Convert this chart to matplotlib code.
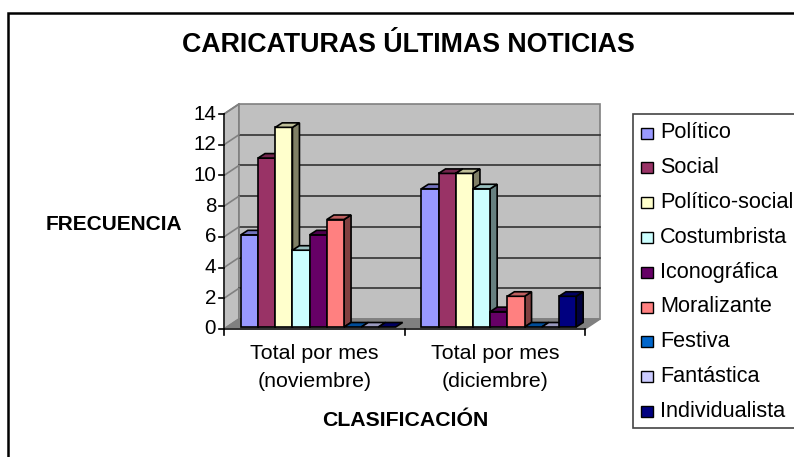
import matplotlib
matplotlib.use('Agg')
import matplotlib.pyplot as plt
from matplotlib.colors import to_rgb
from matplotlib.patches import Polygon, Rectangle

plt.rcParams['font.family'] = ['Liberation Sans', 'DejaVu Sans']

# Data
categories = ['Total por mes\n(noviembre)', 'Total por mes\n(diciembre)']
series = ['Político', 'Social', 'Político-social', 'Costumbrista', 'Iconográfica',
          'Moralizante', 'Festiva', 'Fantástica', 'Individualista']
noviembre = [6, 11, 13, 5, 6, 7, 0, 0, 0]
diciembre = [9, 10, 10, 9, 1, 2, 0, 0, 2]
colors = ['#9999FF', '#993366', '#FFFFCC', '#CCFFFF', '#660066',
          '#FF8080', '#0066CC', '#CCCCFF', '#000080']
yticks = [0, 2, 4, 6, 8, 10, 12, 14]

W, H = 794, 457
fig = plt.figure(figsize=(W / 100, H / 100), dpi=100)

# Plot box in pixels
left, right, top, bottom = 224, 585, 114, 329
ax = fig.add_axes([left / W, 1 - bottom / H, (right - left) / W, (bottom - top) / H])
ax.set_xlim(0, 2)
ax.set_ylim(0, 14)
ax.axis('off')

# 3D offsets in data units
px_x = 2 / (right - left)
px_y = 14 / (bottom - top)
wall_dx, wall_dy = 15 * px_x, 10 * px_y
bar_dx, bar_dy = 7 * px_x, 4.5 * px_y
bar_base = 2 * px_y
bar_shift = 4 * px_x
bar_w = 17.2 * px_x


def shade(c, f):
    return tuple(v * f for v in to_rgb(c))


def poly(pts, fc, ec='#808080', lw=1.2, z=1):
    ax.add_patch(Polygon(pts, closed=True, facecolor=fc, edgecolor=ec, linewidth=lw,
                         zorder=z, clip_on=False, joinstyle='miter'))


# Walls and floor
poly([(0, 0), (wall_dx, wall_dy), (wall_dx, 14 + wall_dy), (0, 14)], '#C0C0C0', z=1)
poly([(wall_dx, wall_dy), (2 + wall_dx, wall_dy), (2 + wall_dx, 14 + wall_dy),
      (wall_dx, 14 + wall_dy)], '#C0C0C0', z=1)
poly([(0, 0), (wall_dx, wall_dy), (2 + wall_dx, wall_dy), (2, 0)], '#808080', z=1)

for t in yticks[1:-1]:
    ax.plot([wall_dx, 2 + wall_dx], [t + wall_dy, t + wall_dy], color='#333333', lw=1.2,
            zorder=2, clip_on=False)
for t in yticks[1:]:
    ax.plot([0, wall_dx], [t, t + wall_dy], color='#808080', lw=1.2, zorder=2, clip_on=False)

# Axis lines and ticks
ax.plot([0, 0], [0, 14], color='#222222', lw=1.2, zorder=3, clip_on=False)
ax.plot([0, 2], [0, 0], color='#222222', lw=1.2, zorder=3, clip_on=False)
for t in yticks:
    ax.plot([-5 * px_x, 0], [t, t], color='black', lw=1.2, zorder=3, clip_on=False)
    ax.text(-8 * px_x, t, str(t), ha='right', va='center', fontsize=14.8, color='black')
for i in range(3):
    ax.plot([i, i], [0, -6 * px_y], color='black', lw=1.2, zorder=3, clip_on=False)
for i, c in enumerate(categories):
    ax.text(i + 0.5, -38.5 * px_y, c, ha='center', va='center', fontsize=15.4,
            linespacing=1.62, color='black')

# Bars
z = 5
for g, vals in enumerate([noviembre, diciembre]):
    x0 = g + 0.5 - bar_w * len(vals) / 2 + bar_shift
    for i, v in enumerate(vals):
        x = x0 + i * bar_w
        b = bar_base
        t = b + v
        c = colors[i]
        if v > 0:
            poly([(x + bar_w, b), (x + bar_w + bar_dx, b + bar_dy),
                  (x + bar_w + bar_dx, t + bar_dy), (x + bar_w, t)],
                 shade(c, 0.5), ec='black', z=z)
            ax.bar(x, v, bar_w, bottom=b, align='edge', color=c, edgecolor='black',
                   linewidth=1.2, zorder=z, clip_on=False)
        poly([(x, t), (x + bar_dx, t + bar_dy), (x + bar_w + bar_dx, t + bar_dy),
              (x + bar_w, t)], shade(c, 0.75), ec='black', z=z)
        z += 1

# Text in pixels
def fig_text(px, py, s, **kw):
    fig.text(px / W, 1 - py / H, s, va='center', color='black', **kw)


fig_text(408, 45, 'CARICATURAS ÚLTIMAS NOTICIAS', ha='center', fontsize=19.25, fontweight='bold')
fig_text(113.5, 224.5, 'FRECUENCIA', ha='center', fontsize=15, fontweight='bold')
fig_text(405, 421, 'CLASIFICACIÓN', ha='center', fontsize=15.3, fontweight='bold')

# Legend, drawn by hand to match the box layout; runs off the right edge like the original
fig.add_artist(Rectangle((633 / W, 1 - 428 / H), 170 / W, 314 / H, transform=fig.transFigure,
                         facecolor='white', edgecolor='#444444', linewidth=1.2))
for i, (s, c) in enumerate(zip(series, colors)):
    y = 133 + i * 34.8
    fig.add_artist(Rectangle((641 / W, 1 - (y + 5.5) / H), 12 / W, 11 / H,
                             transform=fig.transFigure, facecolor=c, edgecolor='black',
                             linewidth=1.0))
    fig_text(660, y, s, ha='left', fontsize=15.6)

# Outer frame, only the left and top edges fall inside the picture
fig.add_artist(Rectangle((8 / W, 1 - 470 / H), 800 / W, 457 / H, transform=fig.transFigure,
                         facecolor='none', edgecolor='black', linewidth=1.8))

fig.savefig('out.png', dpi=100)
